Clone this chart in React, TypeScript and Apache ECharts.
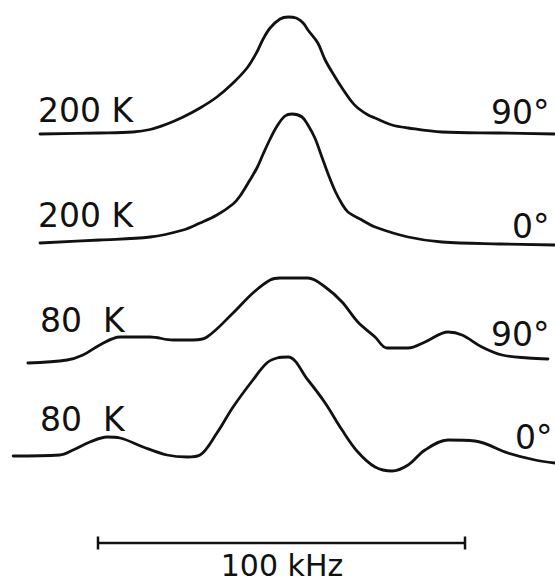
import React, { useEffect, useRef } from "react";
import * as echarts from "echarts";

// Frequency offsets (kHz) and relative intensities (arb. units)
const trace1Freq = [-65.8, -49.5, -40.5, -35.8, -31.2, -26.8, -22.2, -17.6, -13.2, -9.4, -6.7, -5.0, -3.1, -0.4, 1.8, 4.0, 5.9, 7.2, 9.9, 11.9, 14.6, 16.5, 19.2, 20.8, 23.6, 25.5, 30.1, 34.5, 43.7, 59.5, 74.5];
const trace1Int = [0, 1, 2, 4.5, 10, 17, 26, 37, 51, 66, 82, 95, 106, 115, 117, 116, 111, 104, 91, 74, 57, 46, 32, 26, 19, 16, 9, 6, 2, 1, 0];

const trace2Freq = [-65.8, -49.5, -35.8, -26.8, -22.2, -17.6, -13.2, -11.3, -8.6, -6.7, -5.0, -3.1, -1.2, 0.95, 2.9, 5.6, 7.2, 9.1, 11.0, 12.7, 14.6, 16.5, 18.1, 21.9, 25.5, 34.5, 43.7, 59.5, 74.5];
const trace2Int = [0, 3, 6, 13, 20, 28, 39, 47, 63, 75, 89, 104, 117, 127, 129, 126, 118, 105, 86, 69, 52, 39, 31, 23, 16, 6, 1, -1, -2];

const trace3Freq = [-69.1, -58.4, -54.1, -49.5, -44.0, -35.8, -29.6, -24.1, -20.3, -13.2, -7.8, -3.1, -0.4, 7.2, 11.9, 16.5, 20.8, 25.5, 28.7, 34.5, 39.1, 45.4, 49.2, 54.6, 60.1, 67.2, 72.6];
const trace3Int = [0, 3, 8, 18, 26, 26, 23, 23, 26, 50, 70, 83, 85, 85, 76, 61, 41, 26, 15, 15, 21, 31, 28, 16, 8, 5, 4];

const trace4Freq = [-73.1, -60.4, -56.8, -52.2, -47.5, -44.0, -37.7, -31.2, -25.7, -22.2, -17.6, -13.2, -7.8, -4.0, -1.2, 1.8, 7.2, 11.9, 16.5, 20.8, 25.5, 30.1, 34.5, 39.1, 45.4, 52.7, 61.7, 69.1, 74.5];
const trace4Int = [0, 1, 6, 14, 19, 18, 9, 1, -1, 1, 23, 49, 76, 93, 98, 99, 76, 53, 26, 4, -11, -15, -9, 6, 16, 15, 3, -4, -7];

const traceOffsets = [447, 338, 218, 125];
const temperatureLabels = ["200 K", "200 K", "80  K", "80  K"];
const angleLabels = ["90°", "0°", "90°", "0°"];
const scaleBarFreq = [-50, 50];
const scaleBarLevel = 38;
const scaleBarLabel = "100 kHz";

const FONT = "DejaVu Sans";

export default function App() {
  const ref = useRef<HTMLDivElement>(null);

  useEffect(() => {
    if (!ref.current) return;
    const chart = echarts.init(ref.current, null, { renderer: "svg" });

    const traces = [
      [trace1Freq, trace1Int],
      [trace2Freq, trace2Int],
      [trace3Freq, trace3Int],
      [trace4Freq, trace4Int],
    ];

    const lineSeries = traces.map(([f, v], k) => ({
      type: "line",
      data: f.map((x, i) => [x, traceOffsets[k] + v[i]]),
      smooth: 0.35,
      showSymbol: false,
      symbol: "none",
      lineStyle: { color: "#111", width: 2.8, cap: "round", join: "round" },
      silent: true,
    }));

    const scaleSeries = {
      type: "line",
      data: scaleBarFreq.map((x) => [x, scaleBarLevel]),
      showSymbol: true,
      symbol: "rect",
      symbolSize: [2.5, 13],
      itemStyle: { color: "#111" },
      lineStyle: { color: "#111", width: 2.5 },
      silent: true,
    };

    const labelPos = [
      { t: [38, 110], a: [491, 112] },
      { t: [38, 215], a: [512, 226] },
      { t: [40, 320], a: [491, 334] },
      { t: [40, 419], a: [515, 437] },
    ];

    const texts: any[] = [];
    labelPos.forEach((p, k) => {
      texts.push({
        type: "text",
        x: p.t[0],
        y: p.t[1],
        style: { text: temperatureLabels[k], fill: "#111", font: `33px "${FONT}"`, textAlign: "left", textVerticalAlign: "middle" },
      });
      texts.push({
        type: "text",
        x: p.a[0],
        y: p.a[1],
        style: { text: angleLabels[k], fill: "#111", font: `33px "${FONT}"`, textAlign: "left", textVerticalAlign: "middle" },
      });
    });
    texts.push({
      type: "text",
      x: 282,
      y: 565,
      style: { text: scaleBarLabel, fill: "#111", font: `30px "${FONT}"`, textAlign: "center", textVerticalAlign: "middle" },
    });

    chart.setOption({
      animation: false,
      backgroundColor: "#fff",
      grid: { left: 0, right: 0, top: 0, bottom: 0 },
      xAxis: { type: "value", min: -76.7, max: 74.52, show: false },
      yAxis: { type: "value", min: 0, max: 581, show: false },
      series: [...lineSeries, scaleSeries],
      graphic: texts,
    });

    return () => chart.dispose();
  }, []);

  return (
    <div
      ref={ref}
      style={{ position: "absolute", left: 0, top: 0, width: 555, height: 581, background: "#fff" }}
    />
  );
}
